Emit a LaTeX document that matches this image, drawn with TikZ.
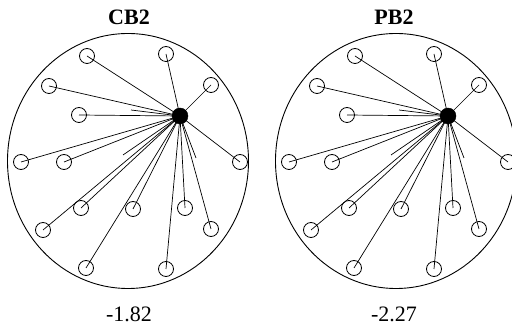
\documentclass[tikz,border=0pt]{standalone}
\usepackage{fontspec}
\setmainfont{Liberation Serif}
\usetikzlibrary{shapes.geometric}

\begin{document}
\begin{tikzpicture}[
    x=1pt, y=-1pt,
    ringNode/.style={
        ellipse, draw=black, line width=0.9pt, inner sep=0pt,
        minimum width=241pt, minimum height=255pt
    },
    sensorNode/.style={
        circle, draw=black, line width=0.8pt, inner sep=0pt,
        minimum size=15pt
    },
    hubNode/.style={
        circle, draw=black, fill=black, inner sep=0pt, minimum size=16pt
    },
    spokeLine/.style={
        line width=0.7pt, draw=black
    },
    titleLabel/.style={
        font=\fontsize{22}{26}\selectfont\bfseries, inner sep=0pt
    },
    valueLabel/.style={
        font=\fontsize{22}{26}\selectfont, inner sep=0pt
    }
]

\useasboundingbox (0,0) rectangle (512,328);
\clip (0,0) rectangle (512,328);

\foreach \pname/\ttl/\val/\dx/\lx in {cb/CB2/-1.82/0/129, pb/PB2/-2.27/268/126} {
  \begin{scope}[shift={(\dx,0)}]
    % Ring, hub and labels
    \node[ringNode] (\pname-ring) at (128,161) {};
    \node[hubNode] (\pname-hub) at (180,116) {};
    \node[titleLabel] (\pname-title) at (\lx,17.5) {\ttl};
    \node[valueLabel] (\pname-value) at (\lx,314) {\val};

    % Sensors and spokes
    \foreach \px/\py [count=\k] in {87/56, 166/54, 211/85, 49/86, 79/115,
        21/162, 64/162, 240/162, 81/208, 133/209, 185/208, 43/230,
        211/229, 86/268, 166/269} {
      \node[sensorNode] (\pname-s\k) at (\px,\py) {};
      \draw[spokeLine] (\pname-hub.center) -- (\pname-s\k.center);
    }

    % Short free spokes
    \coordinate (\pname-t1) at (131,110);
    \coordinate (\pname-t2) at (123,155);
    \coordinate (\pname-t3) at (196,158);
    \foreach \k in {1,2,3} {
      \draw[spokeLine] (\pname-hub.center) -- (\pname-t\k);
    }
  \end{scope}
}

\end{tikzpicture}
\end{document}
